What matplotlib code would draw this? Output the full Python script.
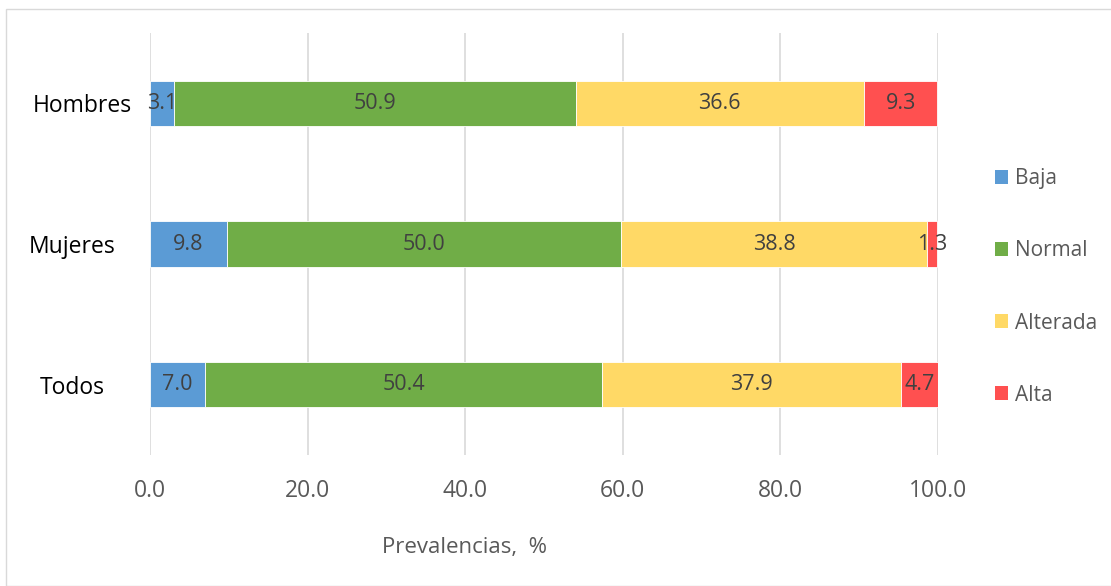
import matplotlib.pyplot as plt
from matplotlib.patches import Patch, Rectangle
from matplotlib.transforms import ScaledTranslation

plt.rcParams['font.family'] = ['Open Sans', 'DejaVu Sans']

# prevalence (%) by group, one list per category
groups = ["Hombres", "Mujeres", "Todos"]
categories = ["Baja", "Normal", "Alterada", "Alta"]
baja = [3.1, 9.8, 7.0]
normal = [50.9, 50.0, 50.4]
alterada = [36.6, 38.8, 37.9]
alta = [9.3, 1.3, 4.7]
colors = ["#5B9BD5", "#70AD47", "#FFD966", "#FF5050"]
xticks = [0, 20, 40, 60, 80, 100]

fig = plt.figure(figsize=(11.11, 5.86), dpi=100)
ax = fig.add_axes([150 / 1111, 1 - 455 / 586, 788 / 1111, 422 / 586])

# light frame around the whole chart
fig.patches.append(Rectangle((6 / 1111, 0), 1.0, 1 - 9 / 586,
                             transform=fig.transFigure, fill=False,
                             edgecolor="#D9D9D9", linewidth=1))

ypos = list(range(len(groups)))
left = [0.0] * len(groups)
for vals, col, name in zip([baja, normal, alterada, alta], colors, categories):
    bars = ax.barh(ypos, vals, left=left, height=0.32, color=col,
                   edgecolor="white", linewidth=0.6, label=name, zorder=3)
    ax.bar_label(bars, labels=[f"{v:.1f}" for v in vals], label_type="center",
                 fontsize=15.5, color="#404040", zorder=4)
    left = [l + v for l, v in zip(left, vals)]

ax.set_xlim(0, 100)
ax.set_ylim(2.5, -0.5)
ax.set_xticks(xticks)
ax.set_xticklabels([f"{t:.1f}" for t in xticks], fontsize=16.5, color="#595959")
ax.set_yticks(ypos)
ax.set_yticklabels(groups, fontsize=16.5, color="black", ha="center")
ax.tick_params(axis="y", length=0, pad=56)
ax.tick_params(axis="x", length=0, pad=17)
ax.grid(axis="x", color="#D9D9D9", linewidth=1.2, zorder=0)
for s in ax.spines.values():
    s.set_visible(False)

# "Hombres" sits a little further right than the other group names
first = ax.get_yticklabels()[0]
first.set_transform(first.get_transform()
                    + ScaledTranslation(0.10, 0, fig.dpi_scale_trans))

fig.text(465 / 1111, 1 - 548 / 586, "Prevalencias,  %", fontsize=16,
         color="#595959", ha="center", va="center")

handles = [Patch(facecolor=c) for c in colors]
fig.legend(handles, categories, loc="center left",
           bbox_to_anchor=(976 / 1111, 1 - 287 / 586), frameon=False,
           fontsize=15, labelcolor="#595959", handlelength=0.65,
           handleheight=0.65, handletextpad=0.3, labelspacing=2.45)

fig.savefig("out.png", dpi=100)
